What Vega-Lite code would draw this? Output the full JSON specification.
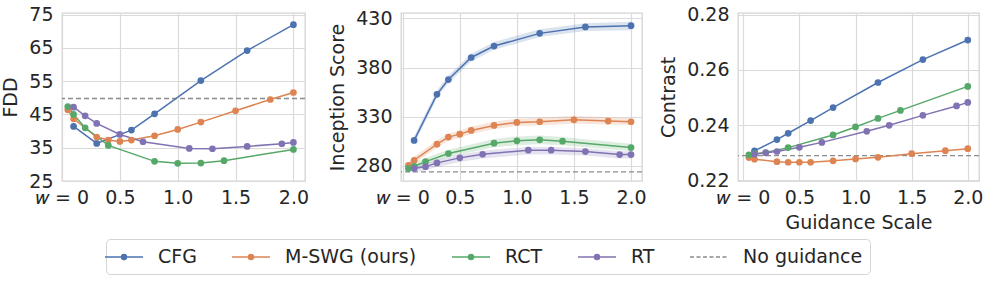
{
  "$schema": "https://vega.github.io/schema/vega-lite/v6.json",
  "padding": {"left": 1, "top": 5, "right": 5, "bottom": 5},
  "datasets": {
    "rows": [
      {"panel": "fdd", "method": "CFG", "w": 0.1, "v": 41.4},
      {"panel": "fdd", "method": "CFG", "w": 0.3, "v": 36.3},
      {"panel": "fdd", "method": "CFG", "w": 0.6, "v": 40.3},
      {"panel": "fdd", "method": "CFG", "w": 0.8, "v": 45.2},
      {"panel": "fdd", "method": "CFG", "w": 1.2, "v": 55.2},
      {"panel": "fdd", "method": "CFG", "w": 1.6, "v": 64.2},
      {"panel": "fdd", "method": "CFG", "w": 2.0, "v": 72.0},
      {"panel": "fdd", "method": "M-SWG (ours)", "w": 0.05, "v": 46.4},
      {"panel": "fdd", "method": "M-SWG (ours)", "w": 0.1, "v": 43.7},
      {"panel": "fdd", "method": "M-SWG (ours)", "w": 0.3, "v": 38.2},
      {"panel": "fdd", "method": "M-SWG (ours)", "w": 0.4, "v": 37.3},
      {"panel": "fdd", "method": "M-SWG (ours)", "w": 0.5, "v": 36.9},
      {"panel": "fdd", "method": "M-SWG (ours)", "w": 0.6, "v": 37.3},
      {"panel": "fdd", "method": "M-SWG (ours)", "w": 0.8, "v": 38.6},
      {"panel": "fdd", "method": "M-SWG (ours)", "w": 1.0, "v": 40.5},
      {"panel": "fdd", "method": "M-SWG (ours)", "w": 1.2, "v": 42.7},
      {"panel": "fdd", "method": "M-SWG (ours)", "w": 1.5, "v": 46.1},
      {"panel": "fdd", "method": "M-SWG (ours)", "w": 1.8, "v": 49.5},
      {"panel": "fdd", "method": "M-SWG (ours)", "w": 2.0, "v": 51.6},
      {"panel": "fdd", "method": "RCT", "w": 0.05, "v": 47.4},
      {"panel": "fdd", "method": "RCT", "w": 0.1, "v": 45.0},
      {"panel": "fdd", "method": "RCT", "w": 0.2, "v": 41.0},
      {"panel": "fdd", "method": "RCT", "w": 0.4, "v": 35.7},
      {"panel": "fdd", "method": "RCT", "w": 0.8, "v": 30.9},
      {"panel": "fdd", "method": "RCT", "w": 1.0, "v": 30.3},
      {"panel": "fdd", "method": "RCT", "w": 1.2, "v": 30.4},
      {"panel": "fdd", "method": "RCT", "w": 1.4, "v": 31.1},
      {"panel": "fdd", "method": "RCT", "w": 2.0, "v": 34.5},
      {"panel": "fdd", "method": "RT", "w": 0.1, "v": 47.2},
      {"panel": "fdd", "method": "RT", "w": 0.2, "v": 44.6},
      {"panel": "fdd", "method": "RT", "w": 0.3, "v": 42.3},
      {"panel": "fdd", "method": "RT", "w": 0.5, "v": 39.0},
      {"panel": "fdd", "method": "RT", "w": 0.7, "v": 36.8},
      {"panel": "fdd", "method": "RT", "w": 1.1, "v": 34.8},
      {"panel": "fdd", "method": "RT", "w": 1.3, "v": 34.7},
      {"panel": "fdd", "method": "RT", "w": 1.6, "v": 35.4},
      {"panel": "fdd", "method": "RT", "w": 1.9, "v": 36.2},
      {"panel": "fdd", "method": "RT", "w": 2.0, "v": 36.6},

      {"panel": "is", "method": "CFG", "w": 0.1, "v": 305.9, "lo": 302.0, "hi": 310.0},
      {"panel": "is", "method": "CFG", "w": 0.3, "v": 352.8, "lo": 349.0, "hi": 357.0},
      {"panel": "is", "method": "CFG", "w": 0.4, "v": 367.8, "lo": 364.0, "hi": 372.0},
      {"panel": "is", "method": "CFG", "w": 0.6, "v": 390.2, "lo": 386.0, "hi": 394.0},
      {"panel": "is", "method": "CFG", "w": 0.8, "v": 401.8, "lo": 398.0, "hi": 406.0},
      {"panel": "is", "method": "CFG", "w": 1.2, "v": 414.7, "lo": 411.0, "hi": 419.0},
      {"panel": "is", "method": "CFG", "w": 1.6, "v": 421.2, "lo": 417.0, "hi": 425.0},
      {"panel": "is", "method": "CFG", "w": 2.0, "v": 422.5, "lo": 418.0, "hi": 426.5},
      {"panel": "is", "method": "M-SWG (ours)", "w": 0.05, "v": 280.7, "lo": 278.0, "hi": 284.0},
      {"panel": "is", "method": "M-SWG (ours)", "w": 0.1, "v": 285.8, "lo": 282.5, "hi": 289.5},
      {"panel": "is", "method": "M-SWG (ours)", "w": 0.3, "v": 302.1, "lo": 298.5, "hi": 306.0},
      {"panel": "is", "method": "M-SWG (ours)", "w": 0.4, "v": 309.3, "lo": 305.5, "hi": 313.0},
      {"panel": "is", "method": "M-SWG (ours)", "w": 0.5, "v": 312.3, "lo": 308.5, "hi": 316.0},
      {"panel": "is", "method": "M-SWG (ours)", "w": 0.6, "v": 316.1, "lo": 312.5, "hi": 320.0},
      {"panel": "is", "method": "M-SWG (ours)", "w": 0.8, "v": 321.2, "lo": 317.5, "hi": 325.0},
      {"panel": "is", "method": "M-SWG (ours)", "w": 1.0, "v": 324.2, "lo": 320.5, "hi": 328.0},
      {"panel": "is", "method": "M-SWG (ours)", "w": 1.2, "v": 324.9, "lo": 321.0, "hi": 329.0},
      {"panel": "is", "method": "M-SWG (ours)", "w": 1.5, "v": 326.9, "lo": 323.0, "hi": 331.0},
      {"panel": "is", "method": "M-SWG (ours)", "w": 1.8, "v": 325.6, "lo": 322.0, "hi": 329.5},
      {"panel": "is", "method": "M-SWG (ours)", "w": 2.0, "v": 324.9, "lo": 321.5, "hi": 328.5},
      {"panel": "is", "method": "RCT", "w": 0.05, "v": 277.3, "lo": 274.5, "hi": 280.0},
      {"panel": "is", "method": "RCT", "w": 0.1, "v": 279.7, "lo": 276.5, "hi": 283.0},
      {"panel": "is", "method": "RCT", "w": 0.2, "v": 284.4, "lo": 281.0, "hi": 288.0},
      {"panel": "is", "method": "RCT", "w": 0.4, "v": 292.6, "lo": 289.0, "hi": 296.5},
      {"panel": "is", "method": "RCT", "w": 0.8, "v": 303.1, "lo": 299.0, "hi": 307.5},
      {"panel": "is", "method": "RCT", "w": 1.0, "v": 305.5, "lo": 301.0, "hi": 310.0},
      {"panel": "is", "method": "RCT", "w": 1.2, "v": 306.5, "lo": 302.0, "hi": 311.0},
      {"panel": "is", "method": "RCT", "w": 1.4, "v": 305.2, "lo": 301.0, "hi": 309.5},
      {"panel": "is", "method": "RCT", "w": 2.0, "v": 298.7, "lo": 295.0, "hi": 302.5},
      {"panel": "is", "method": "RT", "w": 0.1, "v": 277.3, "lo": 273.5, "hi": 280.5},
      {"panel": "is", "method": "RT", "w": 0.2, "v": 279.3, "lo": 275.5, "hi": 282.5},
      {"panel": "is", "method": "RT", "w": 0.3, "v": 283.1, "lo": 279.0, "hi": 286.5},
      {"panel": "is", "method": "RT", "w": 0.5, "v": 288.2, "lo": 284.0, "hi": 291.5},
      {"panel": "is", "method": "RT", "w": 0.7, "v": 291.9, "lo": 287.5, "hi": 295.5},
      {"panel": "is", "method": "RT", "w": 1.1, "v": 296.0, "lo": 291.5, "hi": 299.5},
      {"panel": "is", "method": "RT", "w": 1.3, "v": 296.0, "lo": 291.5, "hi": 299.5},
      {"panel": "is", "method": "RT", "w": 1.6, "v": 294.6, "lo": 290.5, "hi": 298.0},
      {"panel": "is", "method": "RT", "w": 1.9, "v": 291.6, "lo": 287.5, "hi": 295.0},
      {"panel": "is", "method": "RT", "w": 2.0, "v": 291.6, "lo": 287.5, "hi": 295.0},

      {"panel": "con", "method": "CFG", "w": 0.1, "v": 0.2306},
      {"panel": "con", "method": "CFG", "w": 0.3, "v": 0.2347},
      {"panel": "con", "method": "CFG", "w": 0.4, "v": 0.2370},
      {"panel": "con", "method": "CFG", "w": 0.6, "v": 0.2416},
      {"panel": "con", "method": "CFG", "w": 0.8, "v": 0.2463},
      {"panel": "con", "method": "CFG", "w": 1.2, "v": 0.2554},
      {"panel": "con", "method": "CFG", "w": 1.6, "v": 0.2637},
      {"panel": "con", "method": "CFG", "w": 2.0, "v": 0.2708},
      {"panel": "con", "method": "M-SWG (ours)", "w": 0.05, "v": 0.2282},
      {"panel": "con", "method": "M-SWG (ours)", "w": 0.1, "v": 0.2276},
      {"panel": "con", "method": "M-SWG (ours)", "w": 0.3, "v": 0.2267},
      {"panel": "con", "method": "M-SWG (ours)", "w": 0.4, "v": 0.2265},
      {"panel": "con", "method": "M-SWG (ours)", "w": 0.5, "v": 0.2265},
      {"panel": "con", "method": "M-SWG (ours)", "w": 0.6, "v": 0.2265},
      {"panel": "con", "method": "M-SWG (ours)", "w": 0.8, "v": 0.2270},
      {"panel": "con", "method": "M-SWG (ours)", "w": 1.0, "v": 0.2277},
      {"panel": "con", "method": "M-SWG (ours)", "w": 1.2, "v": 0.2283},
      {"panel": "con", "method": "M-SWG (ours)", "w": 1.5, "v": 0.2296},
      {"panel": "con", "method": "M-SWG (ours)", "w": 1.8, "v": 0.2307},
      {"panel": "con", "method": "M-SWG (ours)", "w": 2.0, "v": 0.2314},
      {"panel": "con", "method": "RCT", "w": 0.05, "v": 0.2292},
      {"panel": "con", "method": "RCT", "w": 0.1, "v": 0.2296},
      {"panel": "con", "method": "RCT", "w": 0.2, "v": 0.2300},
      {"panel": "con", "method": "RCT", "w": 0.4, "v": 0.2318},
      {"panel": "con", "method": "RCT", "w": 0.8, "v": 0.2364},
      {"panel": "con", "method": "RCT", "w": 1.0, "v": 0.2393},
      {"panel": "con", "method": "RCT", "w": 1.2, "v": 0.2424},
      {"panel": "con", "method": "RCT", "w": 1.4, "v": 0.2453},
      {"panel": "con", "method": "RCT", "w": 2.0, "v": 0.2540},
      {"panel": "con", "method": "RT", "w": 0.1, "v": 0.2294},
      {"panel": "con", "method": "RT", "w": 0.2, "v": 0.2299},
      {"panel": "con", "method": "RT", "w": 0.3, "v": 0.2304},
      {"panel": "con", "method": "RT", "w": 0.5, "v": 0.2319},
      {"panel": "con", "method": "RT", "w": 0.7, "v": 0.2337},
      {"panel": "con", "method": "RT", "w": 1.1, "v": 0.2377},
      {"panel": "con", "method": "RT", "w": 1.3, "v": 0.2399},
      {"panel": "con", "method": "RT", "w": 1.6, "v": 0.2435},
      {"panel": "con", "method": "RT", "w": 1.9, "v": 0.2469},
      {"panel": "con", "method": "RT", "w": 2.0, "v": 0.2482}
    ],
    "base": [
      {"panel": "fdd", "method": "No guidance", "v": 49.8},
      {"panel": "is", "method": "No guidance", "v": 274.0},
      {"panel": "con", "method": "No guidance", "v": 0.2289}
    ]
  },
  "config": {
    "font": "DejaVu Sans",
    "view": {"stroke": "#d4d4d4", "strokeWidth": 1.3},
    "axis": {
      "labelFont": "DejaVu Sans", "labelFontSize": 19, "labelColor": "#262626",
      "titleFont": "DejaVu Sans", "titleFontSize": 19, "titleColor": "#262626", "titleFontWeight": "normal",
      "domain": false, "ticks": false, "gridColor": "#dadada", "gridWidth": 1.2, "gridOpacity": 1
    },
    "legend": {
      "labelFont": "DejaVu Sans", "labelFontSize": 19, "labelColor": "#262626"
    },
    "line": {"strokeWidth": 1.5}
  },
  "hconcat": [
    {
      "width": 243, "height": 168,
      "encoding": {
        "y": {"field": "v", "type": "quantitative",
          "scale": {"domain": [25, 75.5], "nice": false, "zero": false},
          "axis": {"title": "FDD", "values": [25, 35, 45, 55, 65, 75], "labelPadding": 9, "titlePadding": 8}},
        "color": {"field": "method", "type": "nominal",
          "scale": {"domain": ["CFG", "M-SWG (ours)", "RCT", "RT", "No guidance"], "range": ["#4c72b0", "#dd8452", "#55a868", "#8172b3", "#8c8c8c"]},
          "legend": {
            "title": null, "orient": "none", "direction": "horizontal", "columns": 5,
            "legendX": 44, "legendY": 226,
            "symbolType": "M-1.9,0L1.9,0M0.25,0A0.25,0.25,0,1,1,-0.25,0A0.25,0.25,0,1,1,0.25,0",
            "symbolSize": 400, "symbolStrokeWidth": 1.5,
            "labelOffset": 23, "columnPadding": 32,
            "padding": 7, "strokeColor": "#d4d4d4", "fillColor": "#ffffff", "cornerRadius": 4,
            "encode": {"symbols": {"update": {
              "fill": {"scale": "color", "field": "value"},
              "stroke": {"scale": "color", "field": "value"},
              "strokeDash": {"signal": "datum.value === 'No guidance' ? [4, 2.5] : []"},
              "shape": {"signal": "datum.value === 'No guidance' ? 'M-1.9,0L1.9,0' : 'M-1.9,0L1.9,0M0.25,0A0.25,0.25,0,1,1,-0.25,0A0.25,0.25,0,1,1,0.25,0'"}
            }}}
          }}
      },
      "layer": [
        {
          "data": {"name": "base"},
          "transform": [{"filter": "datum.panel === 'fdd'"}],
          "mark": {"type": "rule", "strokeDash": [5, 3], "strokeWidth": 1.4},
          "encoding": {}
        },
        {
          "data": {"name": "rows"},
          "transform": [{"filter": "datum.panel === 'fdd'"}],
          "mark": {"type": "line"},
          "encoding": {
            "x": {"field": "w", "type": "quantitative",
              "scale": {"domain": [0, 2.1], "nice": false, "zero": false},
              "axis": {"title": null, "values": [0, 0.5, 1, 1.5, 2], "labelExpr": "datum.value == 0 ? '𝑤 = 0' : format(datum.value, '.1f')", "labelPadding": 7, "labelFlush": false}}
          }
        },
        {
          "data": {"name": "rows"},
          "transform": [{"filter": "datum.panel === 'fdd'"}],
          "mark": {"type": "point", "filled": true, "opacity": 1, "size": 45},
          "encoding": {
            "x": {"field": "w", "type": "quantitative"}
          }
        }
      ]
    },
    {
      "width": 241, "height": 168,
      "encoding": {
        "y": {"field": "v", "type": "quantitative",
          "scale": {"domain": [264.7, 435.4], "nice": false, "zero": false},
          "axis": {"title": "Inception Score", "values": [280, 330, 380, 430], "labelPadding": 9, "titlePadding": 8}},
        "color": {"field": "method", "type": "nominal"}
      },
      "layer": [
        {
          "data": {"name": "base"},
          "transform": [{"filter": "datum.panel === 'is'"}],
          "mark": {"type": "rule", "strokeDash": [5, 3], "strokeWidth": 1.4},
          "encoding": {}
        },
        {
          "data": {"name": "rows"},
          "transform": [{"filter": "datum.panel === 'is'"}],
          "mark": {"type": "area", "opacity": 0.2},
          "encoding": {
            "x": {"field": "w", "type": "quantitative",
              "scale": {"domain": [-0.015, 2.096], "nice": false, "zero": false},
              "axis": {"title": null, "values": [0, 0.5, 1, 1.5, 2], "labelExpr": "datum.value == 0 ? '𝑤 = 0' : format(datum.value, '.1f')", "labelPadding": 7, "labelFlush": false}},
            "y": {"field": "lo", "type": "quantitative"},
            "y2": {"field": "hi"}
          }
        },
        {
          "data": {"name": "rows"},
          "transform": [{"filter": "datum.panel === 'is'"}],
          "mark": {"type": "line"},
          "encoding": {
            "x": {"field": "w", "type": "quantitative"}
          }
        },
        {
          "data": {"name": "rows"},
          "transform": [{"filter": "datum.panel === 'is'"}],
          "mark": {"type": "point", "filled": true, "opacity": 1, "size": 45},
          "encoding": {
            "x": {"field": "w", "type": "quantitative"}
          }
        }
      ]
    },
    {
      "width": 241, "height": 168,
      "encoding": {
        "y": {"field": "v", "type": "quantitative",
          "scale": {"domain": [0.2197, 0.2806], "nice": false, "zero": false},
          "axis": {"title": "Contrast", "values": [0.22, 0.24, 0.26, 0.28], "format": ".2f", "labelPadding": 9, "titlePadding": 8}},
        "color": {"field": "method", "type": "nominal"}
      },
      "layer": [
        {
          "data": {"name": "base"},
          "transform": [{"filter": "datum.panel === 'con'"}],
          "mark": {"type": "rule", "strokeDash": [5, 3], "strokeWidth": 1.4},
          "encoding": {}
        },
        {
          "data": {"name": "rows"},
          "transform": [{"filter": "datum.panel === 'con'"}],
          "mark": {"type": "line"},
          "encoding": {
            "x": {"field": "w", "type": "quantitative",
              "scale": {"domain": [-0.047, 2.1], "nice": false, "zero": false},
              "axis": {"title": "Guidance Scale", "values": [0, 0.5, 1, 1.5, 2], "labelExpr": "datum.value == 0 ? '𝑤 = 0' : format(datum.value, '.1f')", "labelPadding": 7, "labelFlush": false, "titlePadding": 6}}
          }
        },
        {
          "data": {"name": "rows"},
          "transform": [{"filter": "datum.panel === 'con'"}],
          "mark": {"type": "point", "filled": true, "opacity": 1, "size": 45},
          "encoding": {
            "x": {"field": "w", "type": "quantitative"}
          }
        }
      ]
    }
  ],
  "resolve": {"scale": {"x": "independent", "y": "independent", "color": "shared"}},
  "spacing": 96,
  "bounds": "flush"
}
